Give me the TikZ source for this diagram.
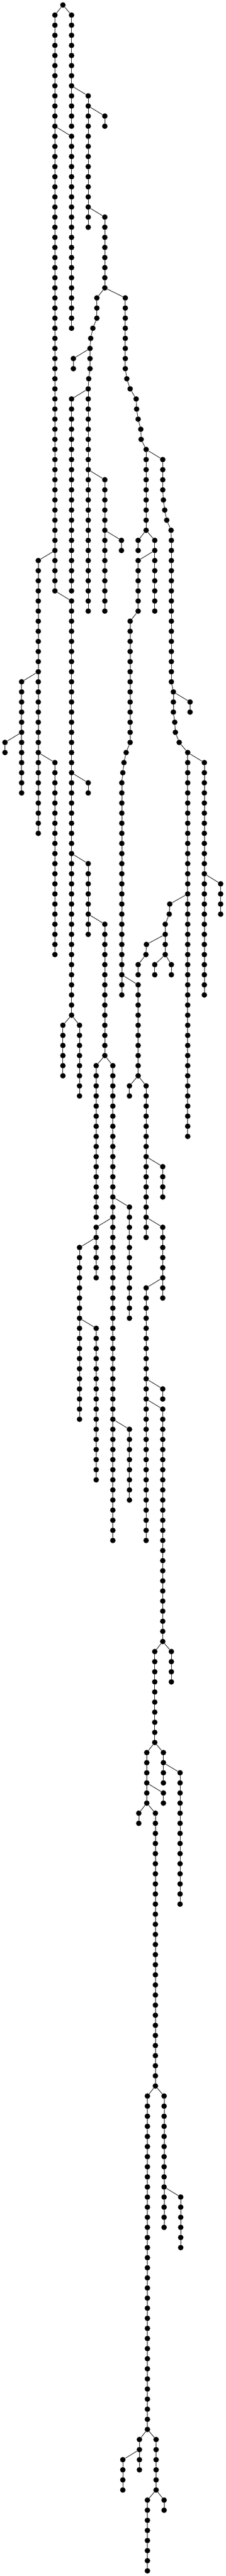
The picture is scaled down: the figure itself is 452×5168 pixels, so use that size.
\documentclass[tikz,border=0pt]{standalone}
\begin{document}
\begin{tikzpicture}[line join=round, line cap=round, x=0.5pt, y=-0.5pt]
  \tikzset{dot/.style={circle,fill=black,inner sep=0pt,minimum size=5.5pt},
           link/.style={line width=0.45pt}}
  \def\ytop{10}
  \def\rowsep{20.266}
  \useasboundingbox (0,0) rectangle (452,5168);
  % straight run of dots: name, x, first row, last row
  \def\chain#1#2#3#4{\foreach \r [remember=\r as \q (initially -1)] in {#3,...,#4}{
      \node[dot] (#1-\r) at (#2,{\ytop+\rowsep*\r}) {};
      \ifnum\q>-1 \draw[link] (#1-\q)--(#1-\r);\fi}}
  % run of dots that drifts sideways: name, list of row/x
  \def\trail#1#2{\foreach \r/\x [remember=\r as \q (initially -1)] in {#2}{
      \node[dot] (#1-\r) at (\x,{\ytop+\rowsep*\r}) {};
      \ifnum\q>-1 \draw[link] (#1-\q)--(#1-\r);\fi}}
  \node[dot] (R-0) at (126,\ytop) {};
  \chain{A}{110}{1}{58}
  \chain{B}{143.3}{1}{12}
  \chain{C}{143.3}{13}{32}
  \chain{D}{176.7}{9}{22}
  \chain{E}{210}{11}{12}
  \chain{F}{210}{21}{28}
  \trail{G}{29/194,30/194,31/194,32/186,33/181.7,34/180.3,35/180.3,36/180.3,37/177.7}
  \chain{G}{176.7}{38}{60}
  \chain{I}{147}{35}{36}
  \chain{J}{143.3}{39}{58}
  \chain{M}{210}{47}{60}
  \chain{N}{243.3}{53}{54}
  \chain{H}{251}{29}{36}
  \trail{H}{37/254,38/260.7,39/272.7,40/273.7,41/276.7,42/282,43/282.7}
  \chain{H}{292.7}{44}{52}
  \chain{P}{276.7}{53}{54}
  \chain{Q}{310}{53}{60}
  \chain{R}{276.7}{55}{60}
  \chain{R}{260.7}{61}{73}
  \trail{R}{74/252.7,75/248.3,76/246}
  \chain{R}{244}{77}{98}
  \trail{O}{45/326,46/326,47/326,48/326,49/327.3,50/330,51/334,52/342.7}
  \chain{O}{343.3}{53}{67}
  \trail{O}{68/347.3,69/347.3,70/347.3,71/350,72/351.3,73/359}
  \chain{O}{376}{74}{112}
  \chain{X}{380.7}{69}{70}
  \chain{Y}{409.3}{75}{98}
  \chain{AI}{442}{87}{90}
  \trail{AE}{89/340,90/339,91/331,92/331,93/331,94/331}
  \trail{AF}{93/293.3,94/292.3,95/276.7,96/276.7}
  \chain{AG}{310}{95}{96}
  \chain{AH}{343.3}{95}{96}
  \chain{K}{76.7}{55}{82}
  \chain{S}{43.3}{67}{78}
  \chain{U}{10}{73}{74}
  \chain{T}{110}{75}{94}
  \chain{L}{143.3}{59}{100}
  \chain{V}{176.7}{77}{78}
  \chain{W}{176.7}{85}{92}
  \chain{Z}{126}{101}{106}
  \chain{ZB}{159.3}{101}{108}
  \chain{AA}{210}{91}{104}
  \chain{AB}{192.7}{105}{120}
  \chain{AC}{226}{105}{152}
  \chain{AJ}{259.3}{119}{130}
  \chain{AK}{192.7}{121}{126}
  \chain{AQ}{159.3}{123}{140}
  \chain{AR}{192.7}{131}{146}
  \chain{AS}{259.3}{141}{148}
  \chain{AD}{276.7}{97}{106}
  \chain{AL}{259.3}{107}{108}
  \chain{AM}{292.7}{107}{122}
  \chain{AN}{326}{115}{118}
  \chain{AO}{326}{121}{128}
  \chain{AP}{292.7}{127}{152}
  \chain{AT}{326}{137}{138}
  \chain{AU}{326}{139}{162}
  \chain{AW}{343.3}{163}{166}
  \chain{AV}{310}{163}{172}
  \chain{AY}{327.3}{173}{176}
  \chain{AZ}{360.7}{175}{188}
  \chain{AX}{294}{173}{178}
  \chain{BA}{327.3}{177}{178}
  \chain{BB}{278}{179}{180}
  \chain{BC}{311.3}{179}{206}
  \chain{BE}{328.7}{207}{220}
  \chain{BF}{362}{217}{222}
  \chain{BD}{295.3}{207}{240}
  \chain{BG}{279.3}{241}{244}
  \chain{BI}{246}{243}{246}
  \chain{BH}{312.7}{241}{246}
  \chain{BJ}{295.3}{247}{254}
  \chain{BK}{328.7}{247}{248}
  % branchings and joins between runs
  \foreach \a/\b in {R-0/A-1,R-0/B-1,A-12/C-13,A-54/K-55,A-58/L-59,B-8/D-9,D-10/E-11,D-20/F-21,
      F-28/G-29,F-28/H-29,G-37/G-38,G-34/I-35,G-38/J-39,G-46/M-47,M-52/N-53,
      H-36/H-37,H-43/H-44,H-44/O-45,H-52/P-53,H-52/Q-53,Q-54/R-55,
      R-60/R-61,R-73/R-74,R-76/R-77,O-52/O-53,O-67/O-68,O-73/O-74,
      O-68/X-69,O-74/Y-75,O-88/AE-89,Y-86/AI-87,AE-92/AF-93,AE-94/AG-95,AE-94/AH-95,
      K-66/S-67,K-74/T-75,S-72/U-73,L-76/V-77,L-84/W-85,L-100/Z-101,L-100/ZB-101,
      W-90/AA-91,AA-104/AB-105,AA-104/AC-105,AC-118/AJ-119,AC-120/AK-121,AC-140/AS-141,
      AK-122/AQ-123,AQ-130/AR-131,R-96/AD-97,AD-106/AL-107,AD-106/AM-107,
      AM-114/AN-115,AM-120/AO-121,AO-126/AP-127,AP-136/AT-137,AP-138/AU-139,
      AU-162/AV-163,AU-162/AW-163,AV-172/AX-173,AV-172/AY-173,AY-174/AZ-175,
      AX-176/BA-177,AX-178/BB-179,AX-178/BC-179,BC-206/BD-207,BC-206/BE-207,
      BE-216/BF-217,BD-240/BG-241,BD-240/BH-241,BG-242/BI-243,BH-246/BJ-247,BH-246/BK-247}
    \draw[link] (\a)--(\b);
\end{tikzpicture}
\end{document}
